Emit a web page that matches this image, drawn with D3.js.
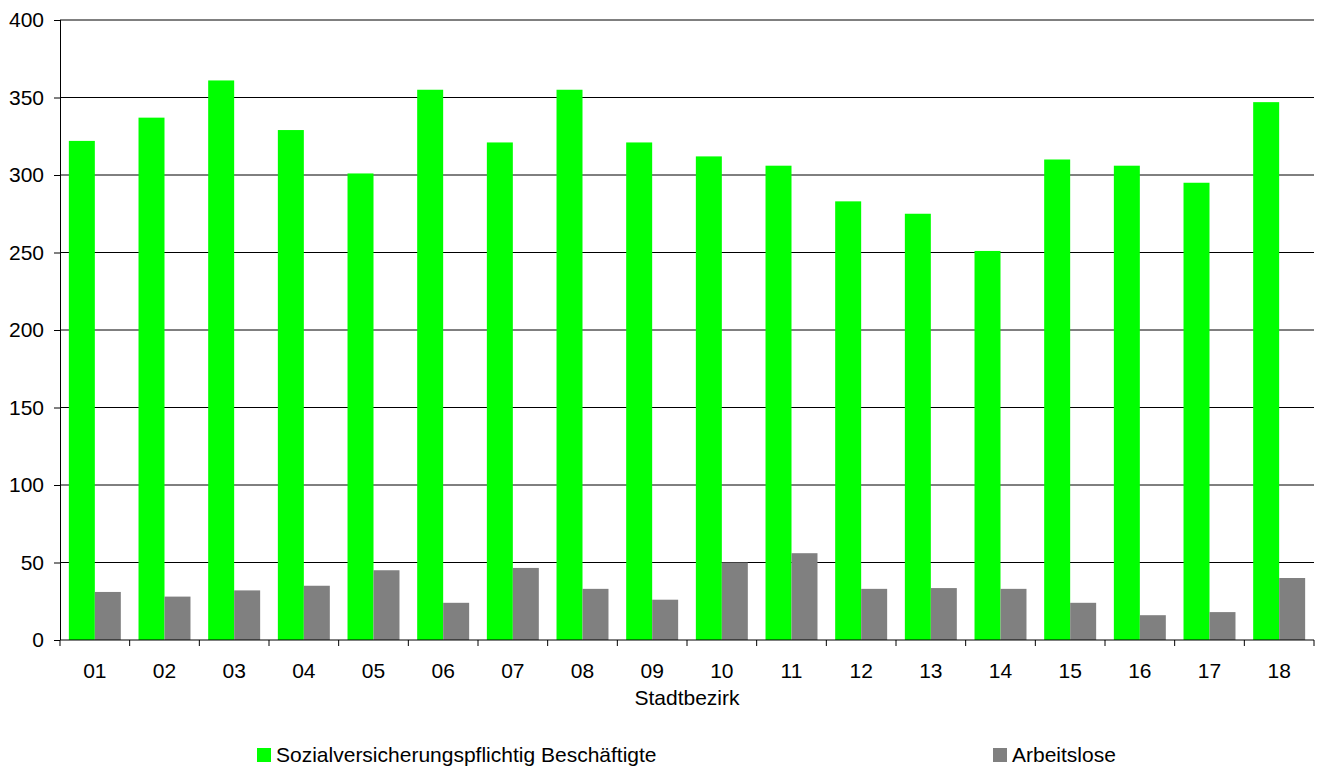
<!DOCTYPE html>
<html>
<head>
<meta charset="utf-8">
<script src="https://cdn.jsdelivr.net/npm/d3@7"></script>
<style>
  body { margin: 0; background: #fff; }
  text { font-family: "Liberation Sans", Arial, sans-serif; fill: #000; }
</style>
</head>
<body>
<script>
var bezirke = ["01","02","03","04","05","06","07","08","09","10","11","12","13","14","15","16","17","18"];
var beschaeftigte = [322, 337, 361, 329, 301, 355, 321, 355, 321, 312, 306, 283, 275, 251, 310, 306, 295, 347];
var arbeitslose = [31, 28, 32, 35, 45, 24, 46.5, 33, 26, 50, 56, 33, 33.5, 33, 24, 16, 18, 40];
var seriesNames = ["Sozialversicherungspflichtig Beschäftigte", "Arbeitslose"];
var seriesColors = ["#00ff00", "#808080"];
var yTicks = [0, 50, 100, 150, 200, 250, 300, 350, 400];

var width = 1320, height = 767;
var plotLeft = 60, plotRight = 1314, plotTop = 20, plotBottom = 640;
var fontSize = "21px";

var svg = d3.select("body").append("svg")
  .attr("width", width)
  .attr("height", height);

var x = d3.scaleBand()
  .domain(bezirke)
  .range([plotLeft, plotRight])
  .paddingInner(0)
  .paddingOuter(0);
var y = d3.scaleLinear()
  .domain([0, 400])
  .range([plotBottom, plotTop]);

// gridlines
svg.append("g").selectAll("line")
  .data(yTicks.filter(function (d) { return d > 0; }))
  .enter().append("line")
  .attr("x1", plotLeft).attr("x2", plotRight)
  .attr("y1", function (d) { return y(d); })
  .attr("y2", function (d) { return y(d); })
  .attr("stroke", "#000")
  .attr("stroke-width", 1);

// bars
var bw = x.bandwidth() * 0.373;
var off = (x.bandwidth() - 2 * bw) / 2;
var rows = bezirke.map(function (b, i) { return { b: b, v: [beschaeftigte[i], arbeitslose[i]] }; });
var groups = svg.append("g").selectAll("g")
  .data(rows)
  .enter().append("g")
  .attr("transform", function (d) { return "translate(" + (x(d.b) + off) + ",0)"; });
groups.selectAll("rect")
  .data(function (d) { return d.v; })
  .enter().append("rect")
  .attr("x", function (d, i) { return i * bw; })
  .attr("y", function (d) { return y(d); })
  .attr("width", bw)
  .attr("height", function (d) { return plotBottom - y(d); })
  .attr("fill", function (d, i) { return seriesColors[i]; });

// y axis
var yAxis = svg.append("g")
  .attr("transform", "translate(" + plotLeft + ",0)")
  .call(d3.axisLeft(y).tickValues(yTicks).tickSize(6).tickPadding(10).tickFormat(d3.format("d")));
yAxis.select(".domain").attr("stroke", "#000").attr("d", "M0.5," + plotTop + "V" + plotBottom);
yAxis.selectAll("text")
  .style("font-size", fontSize)
  .style("font-family", "'Liberation Sans', Arial, sans-serif");

// x axis
var xAxis = svg.append("g")
  .attr("transform", "translate(0," + plotBottom + ")");
xAxis.append("line")
  .attr("x1", plotLeft).attr("x2", plotRight)
  .attr("y1", 0).attr("y2", 0)
  .attr("stroke", "#000");
xAxis.selectAll(".tk")
  .data(bezirke.concat(["end"]))
  .enter().append("line")
  .attr("class", "tk")
  .attr("x1", function (d, i) { return plotLeft + i * x.step(); })
  .attr("x2", function (d, i) { return plotLeft + i * x.step(); })
  .attr("y1", 0).attr("y2", 6)
  .attr("stroke", "#000");
xAxis.selectAll(".lbl")
  .data(bezirke)
  .enter().append("text")
  .attr("class", "lbl")
  .attr("x", function (d) { return x(d) + x.bandwidth() / 2; })
  .attr("y", 38)
  .attr("text-anchor", "middle")
  .style("font-size", fontSize)
  .text(function (d) { return d; });

svg.append("text")
  .attr("x", (plotLeft + plotRight) / 2)
  .attr("y", 705)
  .attr("text-anchor", "middle")
  .style("font-size", fontSize)
  .text("Stadtbezirk");

// legend
var legendX = [257, 993];
var legend = svg.append("g").selectAll("g")
  .data(seriesNames)
  .enter().append("g")
  .attr("transform", function (d, i) { return "translate(" + legendX[i] + ",748)"; });
legend.append("rect")
  .attr("width", 14).attr("height", 14)
  .attr("fill", function (d, i) { return seriesColors[i]; });
legend.append("text")
  .attr("x", 19)
  .attr("y", 14)
  .style("font-size", fontSize)
  .text(function (d) { return d; });
</script>
</body>
</html>
